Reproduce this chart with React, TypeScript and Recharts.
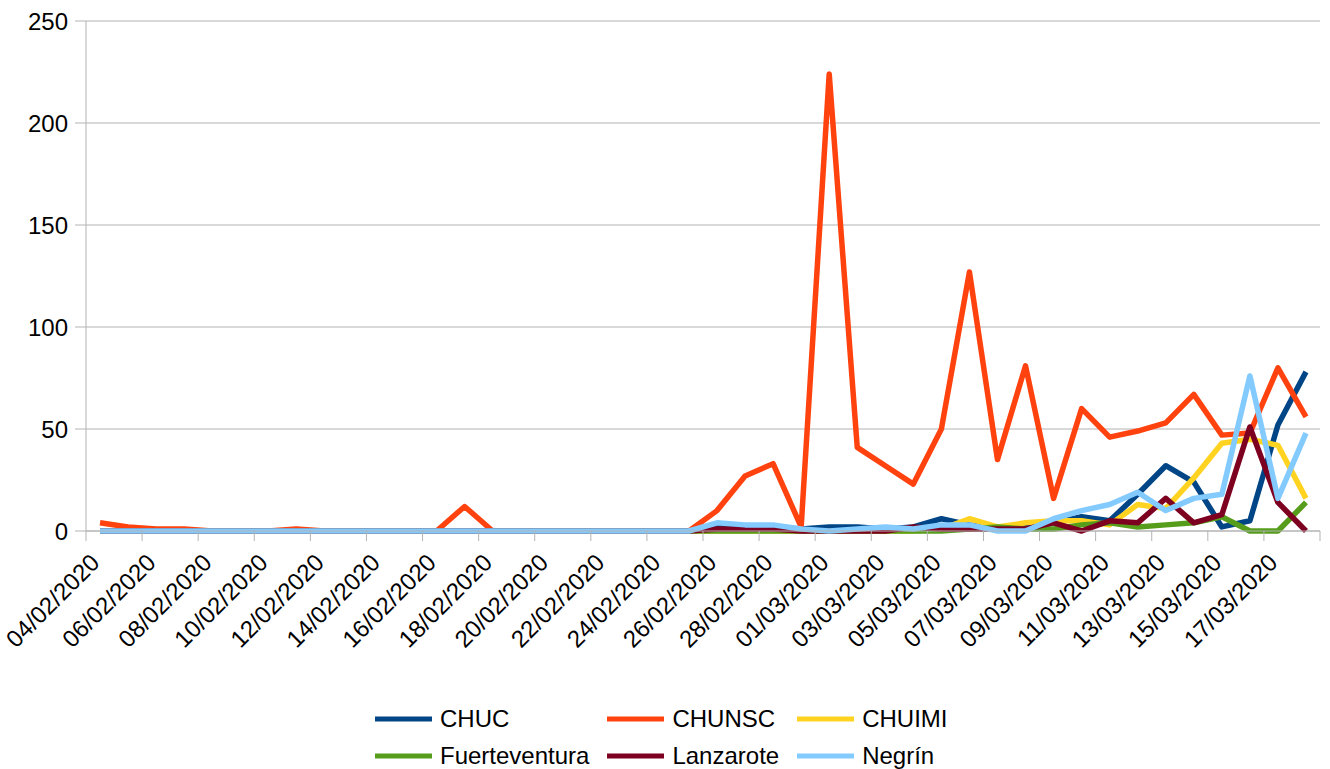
import React from 'react';
import { LineChart, Line, XAxis, YAxis, CartesianGrid, Legend } from 'recharts';

const dates = [
  '04/02/2020', '05/02/2020', '06/02/2020', '07/02/2020', '08/02/2020', '09/02/2020', '10/02/2020',
  '11/02/2020', '12/02/2020', '13/02/2020', '14/02/2020', '15/02/2020', '16/02/2020', '17/02/2020',
  '18/02/2020', '19/02/2020', '20/02/2020', '21/02/2020', '22/02/2020', '23/02/2020', '24/02/2020',
  '25/02/2020', '26/02/2020', '27/02/2020', '28/02/2020', '29/02/2020', '01/03/2020', '02/03/2020',
  '03/03/2020', '04/03/2020', '05/03/2020', '06/03/2020', '07/03/2020', '08/03/2020', '09/03/2020',
  '10/03/2020', '11/03/2020', '12/03/2020', '13/03/2020', '14/03/2020', '15/03/2020', '16/03/2020',
  '17/03/2020', '18/03/2020',
];

const chuc = [
  0, 0, 0, 0, 0, 0, 0, 0, 0, 0, 0, 0, 0, 0, 0, 0, 0, 0, 0, 0, 0, 0,
  2, 2, 2, 1, 2, 2, 1, 2, 6, 3, 1, 2, 4, 7, 5, 18, 32, 24, 2, 5, 52, 78,
];
const chunsc = [
  4, 2, 1, 1, 0, 0, 0, 1, 0, 0, 0, 0, 0, 12, 0, 0, 0, 0, 0, 0, 0, 0,
  10, 27, 33, 2, 224, 41, 32, 23, 50, 127, 35, 81, 16, 60, 46, 49, 53, 67, 47, 48, 80, 56,
];
const chuimi = [
  0, 0, 0, 0, 0, 0, 0, 0, 0, 0, 0, 0, 0, 0, 0, 0, 0, 0, 0, 0, 0, 0,
  0, 0, 0, 0, 0, 0, 0, 0, 1, 6, 2, 4, 5, 5, 3, 13, 11, 26, 43, 45, 42, 16,
];
const fuerteventura = [
  0, 0, 0, 0, 0, 0, 0, 0, 0, 0, 0, 0, 0, 0, 0, 0, 0, 0, 0, 0, 0, 0,
  0, 0, 0, 0, 0, 0, 0, 0, 0, 1, 2, 1, 1, 3, 4, 2, 3, 4, 7, 0, 0, 14,
];
const lanzarote = [
  0, 0, 0, 0, 0, 0, 0, 0, 0, 0, 0, 0, 0, 0, 0, 0, 0, 0, 0, 0, 0, 0,
  1, 1, 1, 0, 0, 0, 0, 2, 1, 1, 1, 1, 4, 0, 5, 4, 16, 4, 8, 51, 14, 0,
];
const negrin = [
  0, 0, 0, 0, 0, 0, 0, 0, 0, 0, 0, 0, 0, 0, 0, 0, 0, 0, 0, 0, 0, 0,
  4, 3, 3, 1, 0, 1, 2, 1, 3, 3, 0, 0, 6, 10, 13, 19, 10, 16, 18, 76, 16, 48,
];

const yTicks = [0, 50, 100, 150, 200, 250];

const seriesDefs = [
  { key: 'CHUC', values: chuc, color: '#004586' },
  { key: 'CHUNSC', values: chunsc, color: '#ff420e' },
  { key: 'CHUIMI', values: chuimi, color: '#ffd320' },
  { key: 'Fuerteventura', values: fuerteventura, color: '#579d1c' },
  { key: 'Lanzarote', values: lanzarote, color: '#7e0021' },
  { key: 'Negrín', values: negrin, color: '#83caff' },
];
const seriesOrder = seriesDefs.map((s) => s.key);

const data = dates.map((d, i) => {
  const row: Record<string, string | number> = { date: d };
  seriesDefs.forEach((s) => {
    row[s.key] = s.values[i];
  });
  return row;
});

const FONT = '"Liberation Sans", Arial, sans-serif';
const GRID = '#b3b3b3';
const FS = 24;

const XTick = (props: any) => {
  const { x, y, payload } = props;
  const off = payload && typeof payload.offset === 'number' ? payload.offset : 14;
  const isLastLabel = payload.value === dates[dates.length - 2];
  const ax = x + 1;
  const ay = y + 33;
  return (
    <g>
      <line x1={x - off} y1={y} x2={x - off} y2={y + 10} stroke={GRID} strokeWidth={1} />
      {isLastLabel && (
        <line x1={x + 3 * off} y1={y} x2={x + 3 * off} y2={y + 10} stroke={GRID} strokeWidth={1} />
      )}
      <text
        x={ax}
        y={ay}
        transform={`rotate(-45 ${ax} ${ay})`}
        textAnchor="end"
        fontSize={FS}
        fontFamily={FONT}
        fill="#000"
      >
        {payload.value}
      </text>
    </g>
  );
};

const LegendContent = (props: any) => {
  const payload = [...(props.payload || [])].sort(
    (a: any, b: any) => seriesOrder.indexOf(a.value) - seriesOrder.indexOf(b.value)
  );
  const rows: any[][] = [];
  for (let i = 0; i < payload.length; i += 3) rows.push(payload.slice(i, i + 3));
  return (
    <table style={{ borderCollapse: 'collapse', fontFamily: FONT, fontSize: FS, color: '#000' }}>
      <tbody>
        {rows.map((r, ri) => (
          <tr key={ri} style={{ height: 37 }}>
            {r.map((p: any, ci: number) => (
              <td key={ci} style={{ padding: 0, paddingRight: ci < 2 ? 18 : 0, whiteSpace: 'nowrap' }}>
                <div style={{ display: 'flex', alignItems: 'center' }}>
                  <svg width={57} height={6} style={{ display: 'block' }}>
                    <line x1={0} y1={3} x2={57} y2={3} stroke={p.color} strokeWidth={5} />
                  </svg>
                  <span style={{ marginLeft: 8, lineHeight: '28px' }}>{p.value}</span>
                </div>
              </td>
            ))}
          </tr>
        ))}
      </tbody>
    </table>
  );
};

export default function App() {
  return (
    <div style={{ width: 1330, height: 769, background: '#fff' }}>
      <style>{`html,body{margin:0;padding:0;overflow:hidden;background:#fff}`}</style>
      <LineChart
        width={1330}
        height={769}
        data={data}
        margin={{ top: 21, right: 10, left: 0, bottom: 0 }}
      >
        <CartesianGrid horizontal={true} vertical={false} stroke={GRID} strokeWidth={1} />
        <XAxis
          dataKey="date"
          scale="band"
          interval={1}
          height={238}
          tickSize={0}
          tickMargin={0}
          tickLine={false}
          axisLine={{ stroke: GRID }}
          tick={<XTick />}
        />
        <YAxis
          domain={[0, 250]}
          ticks={yTicks}
          width={86}
          tickSize={11}
          tickMargin={7}
          axisLine={{ stroke: GRID }}
          tickLine={{ stroke: GRID }}
          tick={{ fontSize: FS, fontFamily: FONT, fill: '#000' }}
          interval={0}
        />
        <YAxis
          yAxisId="right"
          orientation="right"
          width={0}
          domain={[0, 250]}
          tick={false}
          tickLine={false}
          axisLine={{ stroke: GRID }}
        />
        {seriesDefs.map((s) => (
          <Line
            key={s.key}
            type="linear"
            dataKey={s.key}
            name={s.key}
            stroke={s.color}
            strokeWidth={5.5}
            strokeLinejoin="round"
            dot={false}
            activeDot={false}
            isAnimationActive={false}
          />
        ))}
        <Legend
          layout="horizontal"
          verticalAlign="middle"
          align="center"
          content={<LegendContent />}
          wrapperStyle={{ top: 700, left: 375, width: 'auto', height: 'auto' }}
        />
      </LineChart>
    </div>
  );
}
